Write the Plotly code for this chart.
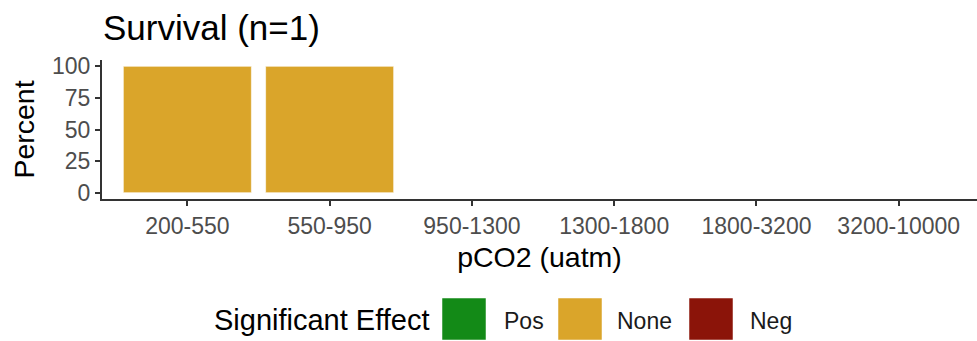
import plotly.graph_objects as go

# ---- data ----
categories = ["200-550", "550-950", "950-1300", "1300-1800", "1800-3200", "3200-10000"]
pos_values = [None, None, None, None, None, None]
none_values = [100, 100, None, None, None, None]
neg_values = [None, None, None, None, None, None]
series_names = ["Pos", "None", "Neg"]
series_colors = ["#138A17", "#DAA52A", "#8B1409"]
y_ticks = [0, 25, 50, 75, 100]
title_text = "Survival (n=1)"
x_title = "pCO2 (uatm)"
y_title = "Percent"
legend_title = "Significant Effect"

W, H = 977, 341
FONT = "Liberation Sans, Arial, Helvetica, sans-serif"

fig = go.Figure()
for name, vals, col in zip(series_names, [pos_values, none_values, neg_values], series_colors):
    fig.add_trace(go.Bar(
        x=categories, y=vals, name=name, width=0.9,
        marker=dict(color=col, line=dict(color="rgba(255,255,255,0.6)", width=1)),
        showlegend=False,
    ))

# ---- custom legend (large square keys like ggplot) ----
shapes = []
annotations = []
box_x = [442, 558, 689]
lab_x = [502, 615, 748]
box_w, box_h = 44, 42
cy = 319
PW, PH = W - 102, H - 60 - 142


def px_x(x):
    return (x - 102) / PW


def px_y(y):
    return (H - 142 - y) / PH


for bx, lx, name, col in zip(box_x, lab_x, series_names, series_colors):
    shapes.append(dict(type="rect", xref="paper", yref="paper",
                       x0=px_x(bx), x1=px_x(bx + box_w),
                       y0=px_y(cy + box_h / 2), y1=px_y(cy - box_h / 2),
                       fillcolor=col, line=dict(color="rgba(255,255,255,0.5)", width=1)))
    annotations.append(dict(text=name, xref="paper", yref="paper",
                            x=px_x(lx), y=px_y(cy + 2),
                            xanchor="left", yanchor="middle", showarrow=False,
                            font=dict(size=23, color="#1a1a1a", family=FONT)))
annotations.append(dict(text=legend_title, xref="paper", yref="paper",
                        x=px_x(431), y=px_y(cy + 1),
                        xanchor="right", yanchor="middle", showarrow=False,
                        font=dict(size=29, color="#000000", family=FONT)))

fig.update_layout(
    width=W, height=H,
    margin=dict(l=102, r=0, t=60, b=142, autoexpand=False),
    plot_bgcolor="white", paper_bgcolor="white",
    barmode="overlay",
    font=dict(family=FONT),
    title=dict(text=title_text, x=103 / W, xref="container", xanchor="left",
               y=1 - 28 / H, yref="container", yanchor="middle",
               font=dict(size=35, color="#000000", family=FONT)),
    xaxis=dict(
        type="category", categoryorder="array", categoryarray=categories,
        range=[-0.6, 5.55], showgrid=False, zeroline=False,
        showline=True, linecolor="#333333", linewidth=2,
        ticks="outside", ticklen=5, tickwidth=2, tickcolor="#333333",
        tickfont=dict(size=23, color="#4D4D4D", family=FONT),
        title=dict(text=x_title, standoff=9, font=dict(size=28.5, color="#000000", family=FONT)),
        automargin=False, fixedrange=True,
    ),
    yaxis=dict(
        range=[-5, 105], tickvals=y_ticks, ticktext=[str(v) for v in y_ticks],
        showgrid=False, zeroline=False,
        showline=True, linecolor="#333333", linewidth=2,
        ticks="outside", ticklen=5, tickwidth=2, tickcolor="#333333",
        tickfont=dict(size=23, color="#4D4D4D", family=FONT),
        title=dict(text=y_title, standoff=9, font=dict(size=28.5, color="#000000", family=FONT)),
        automargin=False, fixedrange=True,
    ),
    shapes=shapes, annotations=annotations,
)

fig.write_html("out.html", config={"displayModeBar": False})
